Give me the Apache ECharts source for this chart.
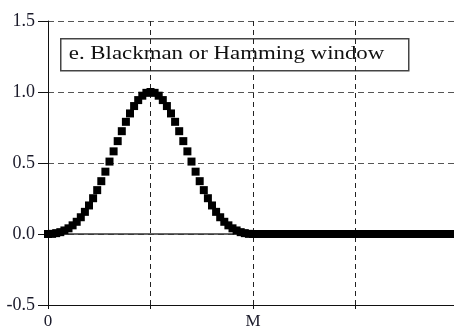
<!DOCTYPE html>
<html><head><meta charset="utf-8">
<script src="https://cdn.jsdelivr.net/npm/echarts@6/dist/echarts.min.js"></script>
<style>html,body{margin:0;padding:0;background:#fff}#c{width:454px;height:329px}</style>
</head><body><div id="c"></div>
<script>
// sample index (0..100), window spans 0..M where M = 50
var windowValues = [
 0.000,0.001,0.006,0.013,0.025,0.040,0.061,0.086,0.118,0.156,
 0.201,0.252,0.309,0.372,0.439,0.510,0.582,0.654,0.724,0.790,
 0.849,0.901,0.943,0.974,0.994,1.000,0.994,0.974,0.943,0.901,
 0.849,0.790,0.724,0.654,0.582,0.510,0.439,0.372,0.309,0.252,
 0.201,0.156,0.118,0.086,0.061,0.040,0.025,0.013,0.006,0.001,
 0.000,
 0,0,0,0,0,0,0,0,0,0, 0,0,0,0,0,0,0,0,0,0,
 0,0,0,0,0,0,0,0,0,0, 0,0,0,0,0,0,0,0,0,0,
 0,0,0,0,0,0,0,0,0,0
];
var xTickValues = [0, 25, 50, 75, 100];
var xTickLabels = ['0', '', 'M', '', ''];
var yTicks = [-0.5, 0.0, 0.5, 1.0, 1.5];
var legendText = 'e. Blackman or Hamming window';

var pts = windowValues.map(function(v, i){ return [i, v]; });
var serif = 'Liberation Serif';
var chart = echarts.init(document.getElementById('c'));
chart.setOption({
  animation: false,
  grid: {left: 48, width: 410, top: 21, bottom: 24, outerBoundsMode: 'none', containLabel: false},
  xAxis: [{
    type: 'value', min: 0, max: 100, interval: 25,
    axisLine: {show: true, onZero: false, lineStyle: {color: '#111', width: 1}},
    axisTick: {show: true, length: 4, inside: false, lineStyle: {color: '#111'}},
    axisLabel: {
      fontFamily: serif, fontSize: 17, color: '#1a1a2a', margin: 8,
      formatter: function(v){ var k = xTickValues.indexOf(v); return k >= 0 ? xTickLabels[k] : ''; }
    },
    splitLine: {show: true, lineStyle: {color: '#222', type: [5, 4], width: 1}}
  }, {
    type: 'value', position: 'top', min: 0, max: 100, interval: 25,
    axisLine: {show: true, lineStyle: {color: '#333', width: 1.5}},
    axisTick: {show: false}, axisLabel: {show: false}, splitLine: {show: false}
  }],
  yAxis: {
    type: 'value', min: -0.5, max: 1.5, interval: 0.5,
    axisLine: {show: true, lineStyle: {color: '#111', width: 1}},
    axisTick: {show: true, length: 10, lineStyle: {color: '#111'}},
    axisLabel: {
      fontFamily: serif, fontSize: 18, color: '#1a1a2a', margin: 13,
      formatter: function(v){ return v.toFixed(1); }
    },
    splitLine: {show: true, lineStyle: {color: '#555', type: [6, 4], width: 1}}
  },
  series: [{
    type: 'scatter', data: pts, symbol: 'rect', symbolSize: 8,
    itemStyle: {color: '#000', opacity: 1}, clip: false, silent: true
  }],
  graphic: [{
    type: 'group', left: 60, top: 38, children: [
      {type: 'rect', shape: {x: 0, y: 0, width: 348, height: 32},
       style: {fill: '#fff', stroke: '#444', lineWidth: 1.5}},
      {type: 'text', x: 8, y: 16, scaleX: 1.27,
       style: {text: legendText, font: '18px "Liberation Serif"', fill: '#111', verticalAlign: 'middle'}}
    ]
  }]
});
</script></body></html>
